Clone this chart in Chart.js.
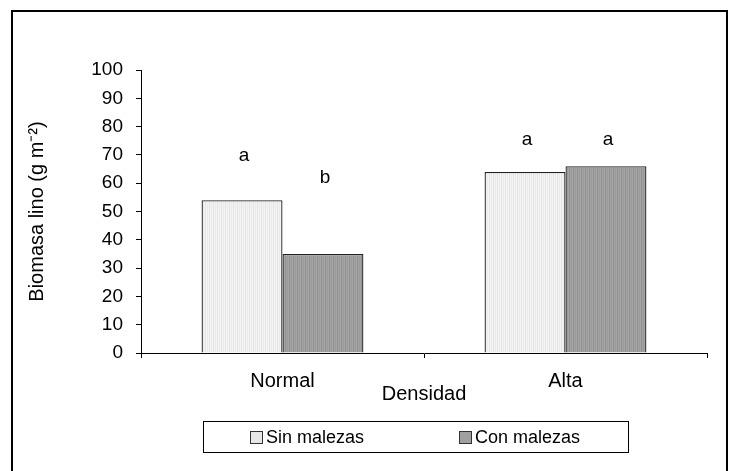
<!DOCTYPE html>
<html>
<head>
<meta charset="utf-8">
<script src="https://cdn.jsdelivr.net/npm/chart.js@4"></script>
<style>
  html, body { margin: 0; padding: 0; background: #fff; overflow: hidden; }
  #wrap { position: relative; width: 736px; height: 471px; }
  #chart { position: absolute; left: 0; top: 0; }
  #frame { position: absolute; left: 11px; top: 10px; width: 713px; height: 520px; border: 2px solid #000; pointer-events: none; }
  #legend { position: absolute; left: 203px; top: 421px; width: 424px; height: 30px; border: 1px solid #000;
            font-family: "Liberation Sans", Arial, sans-serif; font-size: 18px; color: #000; }
  .item { position: absolute; top: 5px; line-height: 20px; white-space: nowrap; }
  .sw { display: inline-block; width: 11px; height: 11px; border: 1px solid #333; margin-right: 3px; vertical-align: -1px; }
</style>
</head>
<body>
<div id="wrap">
  <canvas id="chart" width="736" height="471"></canvas>
  <div id="frame"></div>
  <div id="legend"></div>
</div>
<script>
// datos
const categories = ["Normal", "Alta"];
const seriesNames = ["Sin malezas", "Con malezas"];
const sinMalezas = [54, 64];
const conMalezas = [35, 66];
// letras de significancia y su altura (en unidades del eje y)
const letrasSin = ["a", "a"];
const letrasCon = ["b", "a"];
const alturaLetraSin = [67.8, 73.5];
const alturaLetraCon = [60.1, 73.5];
const yTicks = [0, 10, 20, 30, 40, 50, 60, 70, 80, 90, 100];

const FONT = "'Liberation Sans', Arial, sans-serif";

// patron de rayas verticales finas
function rayas(colores) {
  const c = document.createElement("canvas");
  c.width = colores.length;
  c.height = 1;
  const g = c.getContext("2d");
  colores.forEach((col, i) => {
    g.fillStyle = col;
    g.fillRect(i, 0, 1, 1);
  });
  return g.createPattern(c, "repeat");
}

const ctx = document.getElementById("chart").getContext("2d");
const fillSin = rayas(["#f4f4f4", "#e3e3e3", "#f4f4f4", "#ebebeb"]);
const fillCon = rayas(["#a3a3a3", "#939393", "#a3a3a3", "#9a9a9a"]);

// leyenda en html con recuadro
const legend = document.getElementById("legend");
const legendX = [46, 255];
const legendCol = ["#e6e6e6", "#a0a0a0"];
seriesNames.forEach((name, i) => {
  const d = document.createElement("div");
  d.className = "item";
  d.style.left = legendX[i] + "px";
  d.innerHTML = '<span class="sw" style="background:' + legendCol[i] + '"></span>' + name;
  legend.appendChild(d);
});

const letrasPlugin = {
  id: "letras",
  afterDatasetsDraw(chart) {
    const c = chart.ctx;
    const y = chart.scales.y;
    const letras = [letrasSin, letrasCon];
    const alturas = [alturaLetraSin, alturaLetraCon];
    c.save();
    c.fillStyle = "#000";
    c.font = "19px " + FONT;
    c.textAlign = "center";
    c.textBaseline = "alphabetic";
    letras.forEach((arr, i) => {
      const meta = chart.getDatasetMeta(i);
      arr.forEach((t, j) => {
        c.fillText(t, meta.data[j].x + 2, y.getPixelForValue(alturas[i][j]));
      });
    });
    c.restore();
  },
};

new Chart(ctx, {
  type: "bar",
  data: {
    labels: categories,
    datasets: [
      {
        label: seriesNames[0],
        data: sinMalezas,
        backgroundColor: fillSin,
        borderColor: "#222",
        borderWidth: 1.3,
        categoryPercentage: 0.572,
        barPercentage: 1,
      },
      {
        label: seriesNames[1],
        data: conMalezas,
        backgroundColor: fillCon,
        borderColor: "#222",
        borderWidth: 1.3,
        categoryPercentage: 0.572,
        barPercentage: 1,
      },
    ],
  },
  options: {
    responsive: false,
    animation: false,
    devicePixelRatio: 1,
    layout: { padding: { left: 0, top: 70, right: 29, bottom: 0 } },
    plugins: {
      legend: { display: false },
      tooltip: { enabled: false },
    },
    scales: {
      x: {
        grid: { offset: true, drawOnChartArea: false, tickLength: 5, color: "#000" },
        border: { color: "#000", width: 1 },
        ticks: { color: "#000", font: { family: FONT, size: 20 }, padding: 11 },
        title: {
          display: true,
          text: "Densidad",
          color: "#000",
          font: { family: FONT, size: 20 },
          padding: { top: 0, bottom: 64.5 },
        },
        afterFit(s) { s.height = 118; },
      },
      y: {
        min: 0,
        max: 100,
        afterBuildTicks(s) { s.ticks = yTicks.map((v) => ({ value: v })); },
        grid: { drawOnChartArea: false, tickLength: 5, color: "#000" },
        border: { color: "#000", width: 1 },
        ticks: { color: "#000", font: { family: FONT, size: 19 }, padding: 13 },
        title: {
          display: true,
          text: "Biomasa lino (g m\u207B\u00B2)",
          color: "#000",
          font: { family: FONT, size: 20 },
          padding: { top: 25, bottom: 0 },
        },
        afterFit(s) { s.width = 141; },
      },
    },
  },
  plugins: [letrasPlugin],
});
</script>
</body>
</html>
